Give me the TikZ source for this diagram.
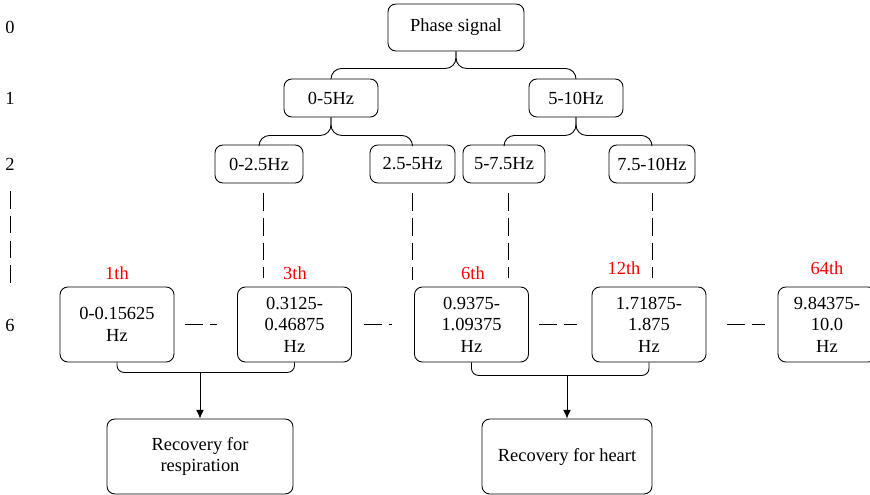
\documentclass[tikz,border=0pt]{standalone}
\usepackage{fontspec}
\setmainfont{Liberation Serif}
\usetikzlibrary{shapes,arrows,arrows.meta,positioning,calc}

\tikzset{
  every node/.style={font=\fontsize{10.5pt}{12.3pt}\selectfont},
  box/.style={draw,rounded corners=4.5pt,align=center,inner sep=2pt,line width=0.5pt},
  link/.style={-,line width=0.5pt,rounded corners=6pt},
  dashline/.style={-,line width=0.5pt,dash pattern=on 10pt off 4pt},
  order/.style={text=red},
  arr/.style={-{Latex[length=5pt,width=4.5pt]},line width=0.5pt},
}

\begin{document}
\begin{tikzpicture}
\useasboundingbox (0,0) rectangle (17.4,-9.9);

% tree levels
\node[box,minimum width=2.72cm,minimum height=0.94cm] (sig) at (9.12,-0.55) {Phase signal};
\node[box,minimum width=1.88cm,minimum height=0.76cm] (l1a) at (6.62,-1.96) {0-5Hz};
\node[box,minimum width=1.88cm,minimum height=0.76cm] (l1b) at (11.52,-1.96) {5-10Hz};
\node[box,minimum width=1.76cm,minimum height=0.76cm] (l2a) at (5.18,-3.28) {0-2.5Hz};
\node[box,minimum width=1.70cm,minimum height=0.76cm] (l2b) at (8.25,-3.28) {2.5-5Hz};
\node[box,minimum width=1.64cm,minimum height=0.76cm] (l2c) at (10.08,-3.28) {5-7.5Hz};
\node[box,minimum width=1.72cm,minimum height=0.76cm] (l2d) at (13.04,-3.28) {7.5-10Hz};

\draw[link] (sig.south) -- ++(0,-0.34) -| (l1a.north);
\draw[link] (sig.south) -- ++(0,-0.34) -| (l1b.north);
\draw[link] (l1a.south) -- ++(0,-0.36) -| (l2a.north);
\draw[link] (l1a.south) -- ++(0,-0.36) -| (l2b.north);
\draw[link] (l1b.south) -- ++(0,-0.36) -| (l2c.north);
\draw[link] (l1b.south) -- ++(0,-0.36) -| (l2d.north);

% level 6 bands
\node[box,minimum width=2.28cm,minimum height=1.5cm] (b1) at (2.34,-6.49) {0-0.15625\\Hz};
\node[box,minimum width=2.28cm,minimum height=1.5cm] (b2) at (5.89,-6.49) {0.3125-\\0.46875\\Hz};
\node[box,minimum width=2.28cm,minimum height=1.5cm] (b3) at (9.43,-6.49) {0.9375-\\1.09375\\Hz};
\node[box,minimum width=2.28cm,minimum height=1.5cm] (b4) at (12.98,-6.49) {1.71875-\\1.875\\Hz};
\node[box,minimum width=1.96cm,minimum height=1.5cm] (b5) at (16.54,-6.49) {9.84375-\\10.0\\Hz};

\node[order] (o1) at (2.34,-5.46) {1th};
\node[order] (o3) at (5.90,-5.46) {3th};
\node[order] (o6) at (9.46,-5.46) {6th};
\node[order] (o12) at (12.48,-5.36) {12th};
\node[order] (o64) at (16.54,-5.36) {64th};

% level numbers
\node (n0) at (0.2,-0.54) {0};
\node (n1) at (0.2,-1.96) {1};
\node (n2) at (0.2,-3.28) {2};
\node (n6) at (0.2,-6.50) {6};
\draw[dashline] ([yshift=-0.3cm]n2.south) -- ([yshift=0.5cm]n6.north);

\draw[dashline] ([xshift=0.08cm,yshift=-0.2cm]l2a.south) -- ++(0,-1.7);
\draw[dashline] ([yshift=-0.2cm]l2b.south) -- ++(0,-1.74);
\draw[dashline] ([xshift=0.08cm,yshift=-0.2cm]l2c.south) -- ++(0,-1.7);
\draw[dashline] ([yshift=-0.2cm]l2d.south) -- ++(0,-1.7);

\draw[dashline] ([xshift=0.22cm]b1.east) -- ([xshift=-0.4cm]b2.west);
\draw[dashline] ([xshift=0.24cm]b2.east) -- ([xshift=-0.44cm]b3.west);
\draw[dashline] ([xshift=0.2cm]b3.east) -- ([xshift=-0.3cm]b4.west);
\draw[dashline] ([xshift=0.42cm]b4.east) -- ([xshift=-0.26cm]b5.west);

% recovery
\node[box,minimum width=3.72cm,minimum height=1.5cm] (resp) at (4.0,-9.13) {Recovery for\\respiration};
\node[box,minimum width=3.40cm,minimum height=1.5cm] (heart) at (11.34,-9.13) {Recovery for heart};

\path (b1.south) ++(0,-0.2) coordinate (j1);
\path (b3.south) ++(0,-0.26) coordinate (j2);
\draw[link,rounded corners=4pt] (b1.south) -- (j1) -| (b2.south);
\draw[link,rounded corners=4pt] (b3.south) -- (j2) -| (b4.south);
\draw[arr] (j1 -| resp.north) -- (resp.north);
\draw[arr] (j2 -| heart.north) -- (heart.north);
\end{tikzpicture}
\end{document}
